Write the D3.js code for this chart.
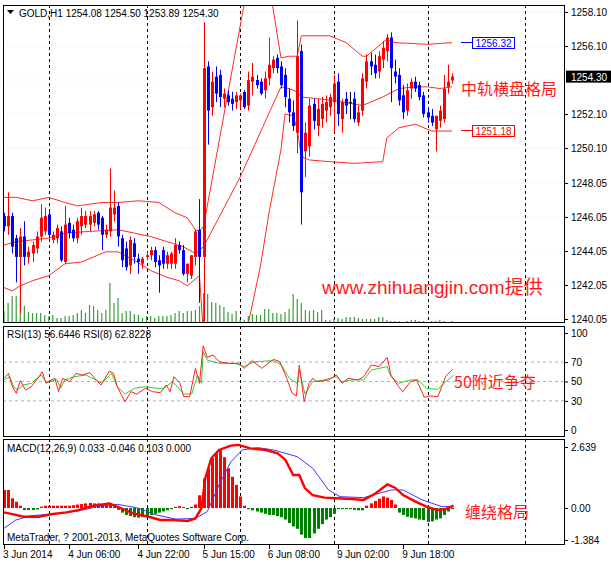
<!DOCTYPE html>
<html lang="zh">
<head>
<meta charset="UTF-8">
<title>GOLD H1</title>
<style>
  body { margin: 0; background: #fff; }
  text { font-family: "Liberation Sans", Arial, sans-serif; font-size: 10px; }
  .cn { font-family: "Noto Sans CJK SC", sans-serif; fill: #ff1a1a; }
</style>
</head>
<body>
<script src="https://d3js.org/d3.v7.min.js"></script>
<script>
// ---- data ----
const opens = [1246.1,1245.5,1246.1,1244.8,1243.7,1244.9,1243.7,1243.9,1244.2,1244.9,1245.2,1246.2,1244.7,1244.8,1245.2,1243.4,1245.7,1245.3,1244.8,1245.5,1245.6,1245.6,1245.7,1246.3,1246.0,1245.0,1245.2,1246.2,1246.7,1244.8,1244.2,1243.2,1244.5,1243.6,1243.3,1243.7,1243.8,1244.1,1243.5,1244.1,1243.3,1243.3,1243.3,1244.4,1244.1,1242.7,1242.6,1243.7,1245.3,1243.7,
  1254.9,1252.5,1254.3,1254.4,1253.0,1253.2,1253.0,1252.8,1252.9,1253.4,1252.6,1254.0,1254.1,1254.0,1253.5,1254.2,1254.8,1255.4,1254.9,1254.4,1253.0,1252.2,1251.0,1255.8,1249.9,1250.2,1252.7,1251.4,1251.8,1252.3,1252.5,1252.8,1254.0,1251.8,1253.0,1252.8,1253.0,1251.6,1252.3,1254.0,1255.2,1255.0,1254.6,1255.3,1255.8,1256.6,1254.6,1254.4,1253.2,1252.3,1253.6,1254.0,1253.8,1253.2,1252.2,1252.0,1251.2,1251.7,1251.8,1253.7,1254.08];
const highs = [1246.3,1247.5,1246.3,1245.0,1245.4,1245.8,1244.3,1244.6,1245.2,1246.8,1246.6,1246.4,1245.2,1245.6,1245.5,1246.7,1246.0,1245.6,1246.0,1246.6,1246.4,1246.4,1246.4,1246.4,1246.1,1245.6,1248.9,1247.6,1246.9,1245.0,1244.6,1244.9,1244.8,1243.9,1243.7,1244.0,1244.3,1244.3,1243.8,1244.3,1244.0,1244.0,1244.8,1244.6,1244.4,1243.3,1243.8,1245.3,1247.1,1257.5,
  1255.2,1254.6,1254.9,1254.7,1253.6,1253.5,1253.4,1253.4,1253.3,1253.5,1254.6,1255.1,1254.4,1254.2,1254.6,1256.6,1255.5,1255.6,1255.2,1254.8,1253.6,1252.9,1257.6,1256.2,1251.6,1253.0,1253.0,1253.0,1253.1,1253.2,1253.3,1254.4,1254.5,1253.0,1253.4,1253.4,1253.4,1252.6,1254.5,1255.6,1255.7,1255.6,1255.8,1256.4,1256.8,1256.9,1255.3,1254.8,1253.8,1253.9,1254.2,1254.3,1254.0,1253.4,1252.5,1252.4,1252.0,1252.6,1254.4,1255.0,1254.50];
const lows = [1245.2,1245.0,1243.9,1242.2,1240.4,1243.2,1243.3,1243.4,1243.9,1244.6,1245.0,1244.8,1244.5,1244.5,1243.4,1243.3,1244.8,1244.6,1244.5,1245.0,1245.4,1245.2,1245.5,1245.3,1244.1,1244.8,1244.9,1245.8,1244.3,1243.1,1242.9,1242.7,1243.3,1242.7,1243.0,1243.5,1243.5,1243.1,1241.6,1243.0,1243.0,1243.0,1243.0,1243.9,1242.6,1242.2,1242.4,1243.2,1241.0,1239.9,
  1250.3,1252.0,1252.8,1252.5,1252.5,1252.6,1252.3,1252.4,1252.4,1252.4,1252.3,1253.2,1253.6,1253.2,1253.0,1253.8,1254.5,1254.5,1253.6,1252.5,1251.6,1251.1,1249.8,1245.6,1248.4,1249.6,1251.2,1250.8,1251.3,1251.6,1252.0,1251.0,1251.4,1251.0,1252.1,1251.8,1251.6,1251.4,1252.0,1253.6,1254.4,1254.2,1254.2,1254.8,1255.2,1252.8,1253.9,1252.6,1251.8,1252.0,1253.0,1253.4,1252.9,1251.9,1251.6,1251.4,1249.9,1251.3,1251.6,1253.3,1253.89];
const closes = [1245.5,1246.1,1244.3,1243.7,1244.9,1243.7,1244.0,1244.4,1244.9,1246.0,1246.1,1245.0,1245.0,1245.4,1243.5,1245.6,1245.1,1244.8,1245.8,1246.1,1246.1,1246.1,1246.2,1245.6,1245.0,1245.3,1246.6,1246.6,1244.9,1243.5,1243.1,1244.7,1243.7,1243.4,1243.6,1243.8,1244.1,1243.4,1243.2,1243.3,1243.8,1243.9,1244.4,1244.1,1242.7,1243.3,1243.8,1245.2,1243.7,1254.8,
  1252.3,1254.0,1253.3,1253.1,1253.3,1252.8,1252.7,1253.2,1253.2,1252.5,1254.1,1254.3,1253.8,1253.3,1254.2,1255.0,1255.3,1254.8,1253.8,1253.1,1252.2,1251.4,1255.5,1247.5,1251.0,1252.6,1251.7,1252.4,1252.7,1252.8,1253.1,1253.9,1252.1,1252.8,1252.6,1252.8,1251.8,1252.2,1254.2,1255.2,1254.9,1254.5,1255.5,1256.0,1256.6,1254.8,1254.3,1252.9,1252.2,1253.5,1254.0,1253.6,1253.1,1252.1,1251.9,1251.6,1252.0,1252.3,1253.6,1254.0,1254.30];
const volumes = [12,20,27,27,27,17,11,10,10,10,8,7,8,5,5,7,7,8,10,13,10,18,17,13,10,13,40,20,25,10,12,12,9,8,5,7,7,5,7,7,7,8,10,12,10,12,12,13,17,30,
  29,21,20,18,16,11,9,12,3,3,7,9,8,8,14,14,10,10,9,11,14,29,24,20,13,12,13,11,13,3,3,4,5,4,6,6,6,5,4,4,4,4,6,6,3,2,2,2,1,2,3,3,2,2,1,2,2,3,2,1,2];

// bollinger bands, sampled [bar, price]
const bbUpper = [[0,1247.2],[3,1247.2],[7,1247.0],[11,1247.2],[15,1246.9],[18,1246.7],[24,1246.9],[28,1246.9],[33,1247.0],[38,1246.9],[42,1246.3],[45,1246.0],[47,1245.3],[48,1245.2],[49,1245.5],[59,1258.6],[61,1259.8],[64,1259.9],[66,1258.4],[68,1255.4],[70,1255.5],[72,1255.5],[73,1256.7],[80,1256.7],[84,1256.3],[88,1255.5],[89,1255.5],[94,1256.5],[96,1256.3],[104,1256.2],[110,1256.3]];
const bbMid = [[0,1244.4],[3,1244.6],[7,1244.7],[11,1244.8],[15,1245.1],[21,1245.2],[28,1245.3],[32,1245.1],[36,1244.9],[40,1244.6],[44,1244.3],[47,1243.9],[48,1244.1],[49,1244.3],[58,1248.4],[68,1253.7],[70,1253.6],[72,1253.4],[73,1253.1],[77,1253.0],[81,1252.9],[88,1252.6],[93,1253.1],[97,1253.6],[101,1253.7],[104,1253.7],[107,1253.6],[110,1253.7]];
const bbLower = [[0,1241.9],[2,1241.7],[4,1242.0],[7,1242.3],[11,1242.6],[15,1243.3],[19,1243.4],[25,1244.0],[28,1244.0],[32,1243.5],[36,1242.9],[40,1242.5],[43,1242.3],[45,1242.0],[48,1242.6],[49,1239.0],[50,1237.0],[59,1237.5],[60,1239.8],[63,1243.2],[65,1246.2],[68,1250.0],[69,1252.1],[71,1252.0],[72,1251.2],[73,1249.6],[75,1249.4],[80,1249.3],[86,1249.2],[93,1249.3],[94,1250.7],[97,1251.3],[101,1251.5],[105,1251.1],[110,1251.1]];

// RSI, sampled [bar, value]
const rsi8 = [[0,53.3],[1.1,58.4],[1.9,46.4],[3,37.8],[4,50.9],[5.3,41.3],[6.7,44.7],[8.6,55],[9.4,60.1],[10.3,48.1],[11.3,50.9],[12.5,53.3],[13.4,39.5],[14.4,53.3],[16.1,49.8],[17.7,58.4],[19.2,56.7],[21.1,59.1],[23,49.8],[23.8,46.4],[25.9,60.8],[26.9,58.4],[27.8,44.7],[29.7,29.2],[31.2,39.5],[32.6,37.1],[34.7,43],[36.5,39.5],[38.4,38.5],[39.8,46.4],[40.8,39.5],[41.7,55],[43.2,48.1],[44.1,34.4],[45.6,34.4],[47,63.6],[48,48.1],[48.9,86.6],[49.9,74.9],[51.3,77.3],[52.8,70.4],[55.2,68.7],[57.6,68.7],[59,63.6],[60.9,71.5],[63.3,63.6],[66.2,72.9],[67.7,70.4],[69.1,56.7],[70.8,37.8],[71.8,35.1],[72.5,67],[73.7,29.2],[74.9,48.1],[75.8,53.3],[76.8,49.8],[79.7,51.6],[81.6,56.7],[83,48.1],[84.5,53.3],[86.9,51.6],[88.3,55],[90.2,67],[92.1,65.3],[94.1,74.9],[95,56.7],[96.9,44.7],[97.9,39.5],[99.8,49.8],[101.3,51.6],[103.2,33.7],[104.6,35.1],[106.5,34.4],[107.5,44.7],[108.5,55.7],[110.2,62.8]];
const rsi13 = [[0,51.6],[1.4,55],[2.4,44.7],[3.3,41.3],[4.8,46.4],[6.7,48.1],[9.1,56.7],[10.5,48.8],[12.9,52.2],[13.9,43],[14.9,51.6],[17.3,55],[20.1,56.7],[22.5,51.6],[24,48.1],[26.4,58.4],[27.8,44.7],[29.7,37.1],[32.1,43],[34.7,44.7],[37.4,43],[39.3,43],[41.3,49.8],[42.2,46.4],[44.1,37.1],[46.1,37.1],[47.5,56.7],[48.5,48.1],[48.9,80.8],[49.9,72.2],[52.8,68.7],[56.6,68.7],[59,65.3],[61.4,70.4],[66.2,71.5],[68.1,67],[70.1,53.3],[72,48.1],[72.5,61.9],[73.9,37.1],[75.8,49.8],[78.7,51.6],[81.6,55],[83,49.8],[85.4,51.6],[88.3,51.6],[90.2,61.9],[94.1,65.3],[95,55],[96.9,48.1],[99.8,51.6],[101.7,51.6],[103.7,43],[106.5,41.9],[108,48.1],[110.4,56.6]];

// MACD
const macdHist = [0.78,0.78,0.42,0.27,0.1,-0.09,-0.09,-0.09,-0.06,0.06,0.1,0.1,0.1,0.1,0.1,0.1,0.1,0.12,0.15,0.17,0.2,0.22,0.2,0.2,0.15,0.15,0.2,0.1,-0.08,-0.2,-0.3,-0.35,-0.4,-0.42,-0.4,-0.35,-0.3,-0.25,-0.2,-0.15,-0.1,-0.05,0.05,0.08,0.04,-0.05,0.05,0.15,0.55,1.28,
  1.72,2.15,2.37,2.5,2.2,1.72,1.35,1.0,0.5,0.1,-0.05,-0.1,-0.15,-0.2,-0.25,-0.3,-0.3,-0.35,-0.4,-0.5,-0.65,-0.8,-0.9,-1.15,-1.3,-1.3,-1.1,-0.9,-0.7,-0.5,-0.4,-0.25,-0.05,-0.05,-0.05,-0.05,-0.08,-0.1,-0.1,0.1,0.2,0.3,0.4,0.5,0.45,0.35,0.15,-0.2,-0.3,-0.38,-0.42,-0.45,-0.5,-0.52,-0.6,-0.58,-0.5,-0.45,-0.3,-0.15,-0.05];
const macdMain = [[0,-0.19],[2.9,-0.3],[4.8,-0.38],[8.6,-0.38],[11.5,-0.27],[15.3,-0.19],[18.2,-0.09],[22,0.1],[25.9,0.2],[27.8,0.06],[31.7,-0.23],[35.5,-0.38],[38.4,-0.52],[41.3,-0.52],[45.1,-0.56],[47,-0.45],[48.5,0],[49.4,1.28],[50.9,2.15],[52.8,2.51],[55.7,2.7],[57.6,2.73],[60.5,2.58],[64.3,2.51],[67.2,2.37],[69.1,2.08],[71,1.43],[72.5,1.43],[73.9,0.85],[75.8,0.56],[78.7,0.45],[81.6,0.42],[85.4,0.39],[88.3,0.35],[91.2,0.63],[94.1,1.02],[96,0.88],[98,0.56],[100.8,0.3],[103.7,0.06],[106.5,-0.09],[108.5,-0.04],[110.4,0.1]];
const macdSignal = [[0,-0.88],[2.9,-0.52],[6.7,-0.33],[11.5,-0.27],[18.2,-0.13],[23,0.06],[27.8,0.16],[32.6,0.01],[37.4,-0.3],[42.2,-0.48],[47,-0.45],[49.9,-0.16],[52.8,1.0],[55.7,2.0],[58.5,2.51],[62.4,2.61],[66.2,2.51],[72,2.22],[75.8,1.72],[79.7,0.78],[82.5,0.49],[88.3,0.45],[91.2,0.59],[95,0.78],[98,0.78],[102.7,0.35],[107.5,0.06],[110.4,0.06]];

const priceTicks = [1258.10,1256.10,1252.10,1250.10,1248.05,1246.05,1244.05,1242.05,1240.05];
const rsiTicks = [100,70,50,30,0];
const rsiLevels = [70,50,30];
const macdTicks = [2.639,0,-1.384];
const macdTickLabels = ['2.639','0.00','-1.384'];
const daySeps = [11,35,58,81,104,128];
const timeLabels = [[0,'3 Jun 2014'],[16,'4 Jun 06:00'],[33,'4 Jun 22:00'],[49,'5 Jun 15:00'],[65,'6 Jun 08:00'],[82,'9 Jun 02:00'],[98,'9 Jun 18:00']];

// ---- layout ----
const W = 611, H = 563;
const L = 3, R = 565;
const main = {t: 5, b: 323}, rsiP = {t: 326, b: 437}, macdP = {t: 439, b: 545};

const svg = d3.select('body').append('svg').attr('width', W).attr('height', H);

const x = d3.scaleLinear().domain([0, 110]).range([4, 452]);
const y = d3.scaleLinear().domain([1240.05, 1258.10]).range([319, 12]);
const yr = d3.scaleLinear().domain([0, 100]).range([430, 333]);
const ym = d3.scaleLinear().domain([0, 2.639]).range([508, 447]);

function clip(id, p) {
  svg.append('clipPath').attr('id', id).append('rect')
    .attr('x', L).attr('y', p.t).attr('width', R - L).attr('height', p.b - p.t);
  return svg.append('g').attr('clip-path', `url(#${id})`);
}

function seps(g, p) {
  g.selectAll('.sep').data(daySeps).enter().append('line')
    .attr('x1', d => Math.round(x(d)) + 0.5).attr('x2', d => Math.round(x(d)) + 0.5)
    .attr('y1', p.t).attr('y2', p.b)
    .attr('stroke', '#000').attr('stroke-dasharray', '3,3');
}

// 1. main panel
const gm = clip('cm', main);
gm.selectAll('.hg').data(priceTicks.concat([1254.10])).enter().append('line')
  .attr('x1', L).attr('x2', R).attr('y1', d => y(d)).attr('y2', d => y(d))
  .attr('stroke', '#e4e4ec').attr('stroke-dasharray', '1,3');
seps(gm, main);

// volumes
gm.selectAll('.vol').data(volumes).enter().append('line')
  .attr('x1', (d, i) => x(i)).attr('x2', (d, i) => x(i))
  .attr('y1', main.b).attr('y2', d => main.b - d)
  .attr('stroke', '#3a9f3a').attr('stroke-width', 1.2);

// bands
const bandLine = d3.line().x(d => x(d[0])).y(d => y(d[1]));
[bbUpper, bbMid, bbLower].forEach(b => {
  gm.append('path').attr('d', bandLine(b)).attr('fill', 'none')
    .attr('stroke', '#ff2a2a').attr('stroke-width', 1);
});

// candles
const bars = d3.range(opens.length);
const col = i => closes[i] > opens[i] ? '#ff0000' : closes[i] < opens[i] ? '#0000ff' : '#000';
gm.selectAll('.wick').data(bars).enter().append('line')
  .attr('x1', i => Math.round(x(i)) + 0.5).attr('x2', i => Math.round(x(i)) + 0.5)
  .attr('y1', i => y(highs[i])).attr('y2', i => y(lows[i]))
  .attr('stroke', col);
gm.selectAll('.body').data(bars).enter().append('rect')
  .attr('x', i => Math.round(x(i)) - 1).attr('width', 3)
  .attr('y', i => y(Math.max(opens[i], closes[i])))
  .attr('height', i => Math.max(1, Math.abs(y(opens[i]) - y(closes[i]))))
  .attr('fill', col);

// band value tags
function tag(val, c) {
  const yy = Math.round(y(val)) + 0.5;
  svg.append('line').attr('x1', 461).attr('x2', 472).attr('y1', yy).attr('y2', yy).attr('stroke', c);
  svg.append('rect').attr('x', 472.5).attr('y', yy - 5).attr('width', 42).attr('height', 11)
    .attr('fill', '#fff').attr('stroke', c);
  svg.append('text').attr('x', 493.5).attr('y', yy + 4).attr('text-anchor', 'middle')
    .attr('fill', c).text(val.toFixed(2));
}
tag(1256.32, '#0000ff');
tag(1251.18, '#ff0000');

// 2. RSI panel
const gr = clip('cr', rsiP);
gr.selectAll('.lv').data(rsiLevels).enter().append('line')
  .attr('x1', L).attr('x2', R).attr('y1', d => yr(d)).attr('y2', d => yr(d))
  .attr('stroke', '#b0b0b0').attr('stroke-dasharray', '3,3');
seps(gr, rsiP);
const rl = d3.line().x(d => x(d[0])).y(d => yr(d[1]));
gr.append('path').attr('d', rl(rsi13)).attr('fill', 'none').attr('stroke', '#33cc33').attr('stroke-width', 1);
gr.append('path').attr('d', rl(rsi8)).attr('fill', 'none').attr('stroke', '#ff2020').attr('stroke-width', 1);

// 3. MACD panel
const gc = clip('cc', macdP);
seps(gc, macdP);
gc.selectAll('.hist').data(macdHist).enter().append('rect')
  .attr('x', (d, i) => Math.round(x(i)) - 1).attr('width', 3)
  .attr('y', d => Math.min(ym(d), ym(0)))
  .attr('height', d => Math.max(1, Math.abs(ym(d) - ym(0))))
  .attr('fill', d => d >= 0 ? '#ff0000' : '#008000');
const ml = d3.line().x(d => x(d[0])).y(d => ym(d[1]));
gc.append('path').attr('d', ml(macdSignal)).attr('fill', 'none').attr('stroke', '#3a3aff').attr('stroke-width', 1);
gc.append('path').attr('d', ml(macdMain)).attr('fill', 'none').attr('stroke', '#ff0000').attr('stroke-width', 2.4);

// frames
[main, rsiP, macdP].forEach(p => {
  svg.append('rect').attr('x', L + 0.5).attr('y', p.t + 0.5)
    .attr('width', R - L - 1).attr('height', p.b - p.t - 1)
    .attr('fill', 'none').attr('stroke', '#000');
});

// axes
function rightAxis(scale, ticks, fmt) {
  const g = svg.append('g').attr('transform', `translate(${R},0)`)
    .call(d3.axisRight(scale).tickValues(ticks).tickFormat(fmt).tickSize(3));
  g.select('.domain').remove();
  g.selectAll('text').attr('x', 6).style('font-family', '"Liberation Sans", Arial, sans-serif').style('font-size', '10px');
  return g;
}
rightAxis(y, priceTicks, d => d.toFixed(2));
rightAxis(yr, rsiTicks, d => d);
rightAxis(ym, macdTicks, (d, i) => macdTickLabels[i]);

// current price box
svg.append('rect').attr('x', R + 1).attr('y', y(1254.30) - 6).attr('width', 45).attr('height', 12).attr('fill', '#000');
svg.append('text').attr('x', R + 6).attr('y', y(1254.30) + 4).attr('fill', '#fff').text('1254.30');

// time axis
const gt = svg.append('g');
gt.selectAll('line').data(timeLabels).enter().append('line')
  .attr('x1', d => Math.round(x(d[0])) + 0.5).attr('x2', d => Math.round(x(d[0])) + 0.5)
  .attr('y1', macdP.b).attr('y2', macdP.b + 4).attr('stroke', '#000');
gt.selectAll('text').data(timeLabels).enter().append('text')
  .attr('x', d => x(d[0]) - 1).attr('y', 558).text(d => d[1]);

// labels
svg.append('path').attr('d', 'M7,10 L14,10 L10.5,14 Z').attr('fill', '#000');
svg.append('text').attr('x', 19).attr('y', 17).text('GOLD,H1  1254.08 1254.50 1253.89 1254.30');
svg.append('text').attr('x', 7).attr('y', 338).text('RSI(13) 56.6446  RSI(8) 62.8228');
svg.append('text').attr('x', 7).attr('y', 452).text('MACD(12,26,9) 0.033 -0.046 0.103 0.000');
svg.append('text').attr('x', 7).attr('y', 541).text('MetaTrader, ? 2001-2013, MetaQuotes Software Corp.');

svg.append('text').attr('class', 'cn').attr('x', 461).attr('y', 95).style('font-size', '16px').text('中轨横盘格局');
svg.append('text').attr('class', 'cn').attr('x', 454).attr('y', 388).style('font-size', '16px').text('50附近争夺');
svg.append('text').attr('class', 'cn').attr('x', 465).attr('y', 518).style('font-size', '16px').text('缠绕格局');
svg.append('text').attr('class', 'cn').attr('x', 322).attr('y', 294).style('font-size', '19px')
  .style('font-family', '"Liberation Sans", "Noto Sans CJK SC", sans-serif').text('www.zhihuangjin.com提供');
</script>
</body>
</html>
